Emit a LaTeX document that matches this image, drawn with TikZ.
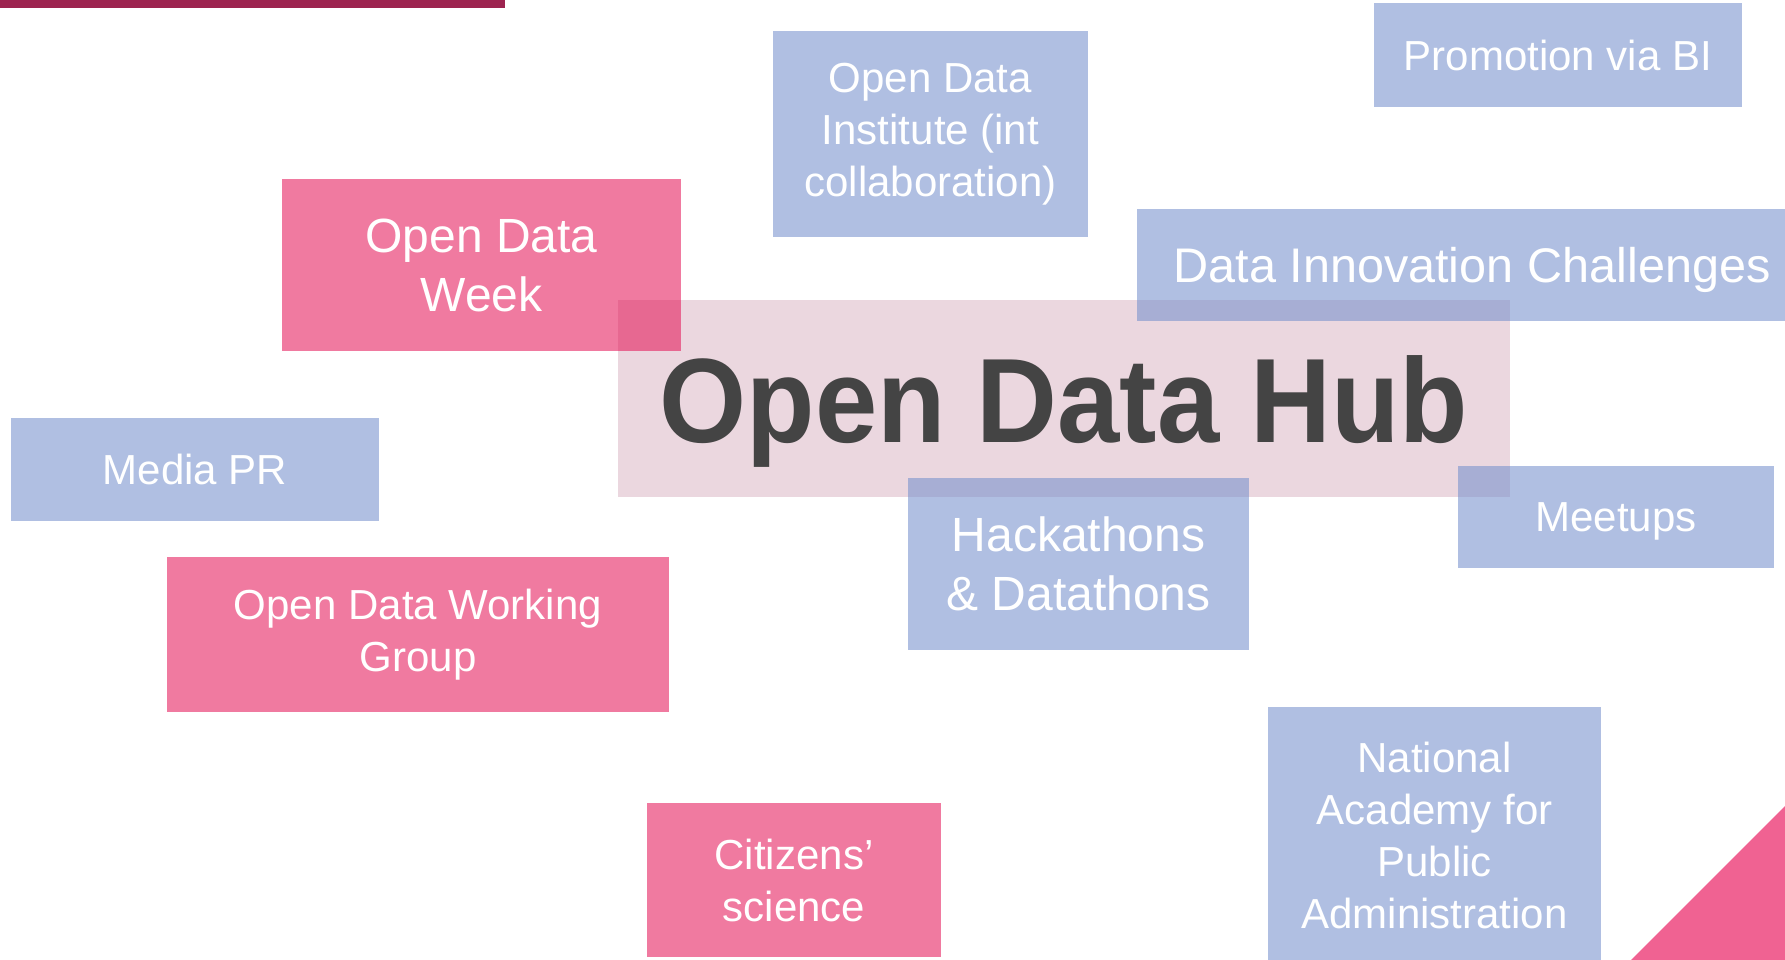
\documentclass[tikz,border=0pt]{standalone}
\usepackage{fontspec}
\setmainfont{Liberation Sans}
\usepackage{graphicx}
\definecolor{boxblue}{RGB}{116,143,204}
\definecolor{boxpink}{RGB}{228,13,82}
\definecolor{hubbg}{RGB}{235,215,223}
\definecolor{hubtext}{RGB}{68,68,68}
\definecolor{barred}{RGB}{157,36,80}
\definecolor{tripink}{RGB}{240,98,146}
\begin{document}
\begin{tikzpicture}[x=1pt,y=-1pt,
  box/.style={rectangle, inner sep=0pt, text=white, align=center, text opacity=1,
    font=\fontsize{42}{52}\selectfont},
  bluebox/.style={box, fill=boxblue, fill opacity=0.57},
  pinkbox/.style={box, fill=boxpink, fill opacity=0.55},
  big/.style={font=\fontsize{48}{59}\selectfont}]
\useasboundingbox (0,0) rectangle (1785,960);
\clip (0,0) rectangle (1785,960);
% decorations
\fill[barred] (0,0) rectangle (505,8.5);
\fill[tripink] (1631,960) -- (1785,806) -- (1785,960) -- cycle;
% hub background
\node[fill=hubbg, inner sep=0pt, minimum width=892pt, minimum height=197pt] (hubbox) at (1064,398.5) {};
% boxes
\node[bluebox, minimum width=315pt, minimum height=206pt] (odi) at (930.5,134) {Open Data\\Institute (int\\collaboration)};
\node[bluebox, minimum width=368pt, minimum height=104pt] (promo) at (1558,55.5) {Promotion via BI};
\node[pinkbox, big, minimum width=399pt, minimum height=172pt] (odw) at (481.5,265) {Open Data\\Week};
\node[bluebox, font=\fontsize{48.6}{59}\selectfont, text depth=0pt, minimum width=670pt, minimum height=112pt] (dic) at (1472,265) {Data Innovation Challenges};
\node[bluebox, minimum width=368pt, minimum height=103pt] (media) at (195,469.5) {Media PR};
\node[pinkbox, minimum width=502pt, minimum height=155pt] (odwg) at (418,634.5) {Open Data Working\\Group};
\node[bluebox, big, minimum width=341pt, minimum height=172pt] (hack) at (1078.5,564) {Hackathons\\\& Datathons};
\node[bluebox, text depth=0pt, minimum width=316pt, minimum height=102pt] (meet) at (1616,517) {Meetups};
\node[pinkbox, minimum width=294pt, minimum height=154pt] (cit) at (794,880) {Citizens’\\science};
\node[bluebox, minimum width=333pt, minimum height=256pt] (napa) at (1434.5,835) {National\\Academy for\\Public\\Administration};
% hub title
\node[anchor=base, inner sep=0pt, text=hubtext, font=\fontsize{120}{120}\selectfont\bfseries] (hub) at (1064,442) {\scalebox{0.933}[1]{Open Data Hub}};
\end{tikzpicture}
\end{document}
